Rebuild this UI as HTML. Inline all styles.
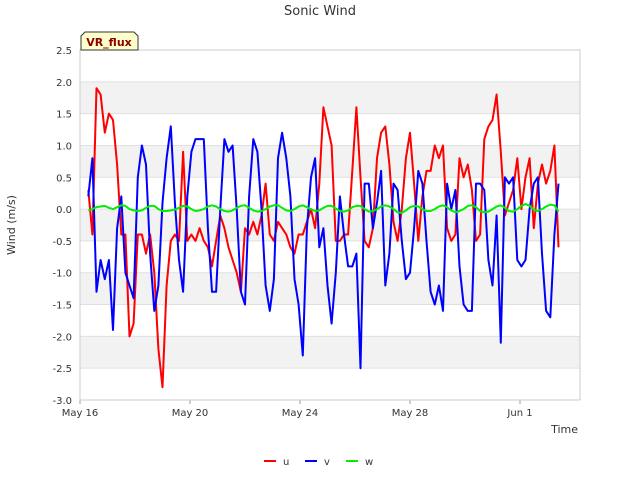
<!DOCTYPE html>
<html><head><meta charset="utf-8"><style>
body{margin:0;background:#fff;font-family:"Liberation Sans","DejaVu Sans",sans-serif}
svg text{font-family:"DejaVu Sans","Liberation Sans",sans-serif}
</style></head><body>
<svg id="chart" width="640" height="480" xmlns="http://www.w3.org/2000/svg">
<rect width="640" height="480" fill="#fff"/>
<text x="320" y="15" text-anchor="middle" font-size="13" fill="#333">Sonic Wind</text>
<g id="bands"></g>
<g id="yaxis"></g>
<g id="xaxis"></g>
<rect x="80" y="50" width="500" height="350" fill="none" stroke="#ccc"/>
<g id="series"></g>
<text x="15" y="225" transform="rotate(-90 15 225)" text-anchor="middle" font-size="11" fill="#333">Wind (m/s)</text>
<text x="578" y="433" text-anchor="end" font-size="11" fill="#333">Time</text>
<g>
<path d="M81,50 L81,36 L85,32 L134,32 L138,36 L138,50 Z" fill="#ffffcc" stroke="#333"/>
<text x="109" y="46" text-anchor="middle" font-size="11" font-weight="bold" fill="#8b0000">VR_flux</text>
</g>
<g id="legend"></g>
</svg>
<script>
const uVals=[0.3,-0.4,1.9,1.8,1.2,1.5,1.4,0.7,-0.4,-0.4,-2.0,-1.8,-0.4,-0.4,-0.7,-0.4,-1.0,-2.2,-2.8,-1.2,-0.5,-0.4,-0.5,0.9,-0.5,-0.4,-0.5,-0.3,-0.5,-0.6,-0.9,-0.5,-0.1,-0.3,-0.6,-0.8,-1.0,-1.3,-0.3,-0.4,-0.2,-0.4,-0.1,0.4,-0.4,-0.5,-0.2,-0.3,-0.4,-0.6,-0.7,-0.4,-0.4,-0.2,0.0,-0.3,0.4,1.6,1.3,1.0,-0.5,-0.5,-0.4,-0.4,0.6,1.6,0.5,-0.5,-0.6,-0.3,0.8,1.2,1.3,0.7,-0.2,-0.5,0.0,0.8,1.2,0.4,-0.5,0.2,0.6,0.6,1.0,0.8,1.0,-0.3,-0.5,-0.4,0.8,0.5,0.7,0.3,-0.5,-0.4,1.1,1.3,1.4,1.8,0.9,-0.1,0.1,0.3,0.8,0.0,0.5,0.8,-0.3,0.4,0.7,0.4,0.6,1.0,-0.6];
const vVals=[0.2,0.8,-1.3,-0.8,-1.1,-0.8,-1.9,-0.3,0.2,-1.0,-1.2,-1.4,0.5,1.0,0.7,-0.7,-1.6,-1.2,0.1,0.8,1.3,0.1,-0.8,-1.3,0.2,0.9,1.1,1.1,1.1,-0.3,-1.3,-1.3,0.0,1.1,0.9,1.0,0.0,-1.3,-1.5,0.2,1.1,0.9,0.0,-1.2,-1.6,-1.1,0.8,1.2,0.8,0.2,-1.1,-1.5,-2.3,-0.3,0.5,0.8,-0.6,-0.3,-1.2,-1.8,-1.0,0.2,-0.4,-0.9,-0.9,-0.7,-2.5,0.4,0.4,-0.3,0.1,0.6,-1.2,-0.7,0.4,0.3,-0.5,-1.1,-1.0,-0.3,0.6,0.4,-0.5,-1.3,-1.5,-1.2,-1.6,0.4,0.0,0.3,-0.9,-1.5,-1.6,-1.6,0.4,0.4,0.3,-0.8,-1.2,-0.1,-2.1,0.5,0.4,0.5,-0.8,-0.9,-0.8,0.0,0.4,0.5,-0.7,-1.6,-1.7,-0.4,0.4];
const wVals=[-0.02,0.0,0.03,0.04,0.05,0.02,0.0,0.03,0.06,0.05,0.0,-0.02,-0.03,-0.02,0.02,0.05,0.05,0.0,-0.03,-0.03,-0.02,-0.01,0.02,0.05,0.04,0.0,-0.03,-0.02,0.0,0.04,0.06,0.04,0.0,-0.03,-0.04,-0.02,0.02,0.05,0.06,0.02,-0.02,-0.04,-0.03,0.0,0.04,0.06,0.06,0.02,-0.02,-0.03,0.0,0.04,0.06,0.03,0.0,-0.03,-0.02,0.02,0.05,0.05,0.01,-0.03,-0.04,-0.02,0.03,0.05,0.05,0.0,-0.04,-0.03,0.0,0.04,0.06,0.04,0.0,-0.05,-0.06,-0.02,0.03,0.05,0.04,0.0,-0.03,-0.03,0.0,0.04,0.06,0.03,-0.02,-0.05,-0.03,0.0,0.05,0.06,0.03,-0.03,-0.05,-0.04,0.0,0.04,0.06,0.02,-0.03,-0.04,0.0,0.05,0.08,0.05,-0.01,-0.03,0.0,0.04,0.07,0.06,-0.04];
const startDay=0.3, stepDay=0.15;
const yTicks=[2.5,2.0,1.5,1.0,0.5,0.0,-0.5,-1.0,-1.5,-2.0,-2.5,-3.0];
const yTickLabels=["2.5","2.0","1.5","1.0","0.5","0.0","-0.5","-1.0","-1.5","-2.0","-2.5","-3.0"];
const xTicks=[0,4,8,12,16];
const xTickLabels=["May 16","May 20","May 24","May 28","Jun 1"];
const seriesNames=["u","v","w"];
const NS="http://www.w3.org/2000/svg";
const X=d=>80+d*27.5;
const Y=v=>50+(2.5-v)*(350/5.5);
function mk(tag,attrs,parent){const e=document.createElementNS(NS,tag);for(const k in attrs)e.setAttribute(k,attrs[k]);parent.appendChild(e);return e;}
const bands=document.getElementById('bands');
for(let i=0;i<yTicks.length-1;i++){
  if(i%2===1){const r=mk('rect',{x:80,y:Y(yTicks[i]),width:500,height:Y(yTicks[i+1])-Y(yTicks[i]),fill:'#f2f2f2'},bands);
  
  }
}
const ya=document.getElementById('yaxis');
yTicks.forEach((v,i)=>{
  const l=mk('line',{x1:80,x2:580,y1:Y(v),y2:Y(v),stroke:'#e0e0e0'},ya);
  
  
  const t=mk('text',{x:72,y:Y(v)+4,'text-anchor':'end','font-size':'10',fill:'#333'},ya);
  t.textContent=yTickLabels[i];
  
  
});
const xa=document.getElementById('xaxis');
xTicks.forEach((d,i)=>{
  const l=mk('line',{x1:X(d),x2:X(d),y1:400,y2:404,stroke:'#999'},xa);
  
  
  const t=mk('text',{x:X(d),y:416,'text-anchor':'middle','font-size':'10',fill:'#333'},xa);
  t.textContent=xTickLabels[i];
  
  
});
const sg=document.getElementById('series');
const colors=['#ff0000','#0000ff','#00ee00'];
[uVals,vVals,wVals].forEach((arr,si)=>{
  const pts=arr.map((v,i)=>X(startDay+i*stepDay).toFixed(1)+','+Y(v).toFixed(1)).join(' ');
  const p=mk('polyline',{points:pts,fill:'none',stroke:colors[si],'stroke-width':2,'stroke-linejoin':'round'},sg);
  
  
});
const lg=document.getElementById('legend');
const lx=[264,305,346];
seriesNames.forEach((n,i)=>{
  const g=mk('g',{},lg);
  
  
  mk('line',{x1:lx[i],x2:lx[i]+12,y1:461,y2:461,stroke:colors[i],'stroke-width':2},g);
  const t=mk('text',{x:lx[i]+19,y:465,'font-size':'10',fill:'#333'},g);
  t.textContent=n;
});
</script>
</body></html>
